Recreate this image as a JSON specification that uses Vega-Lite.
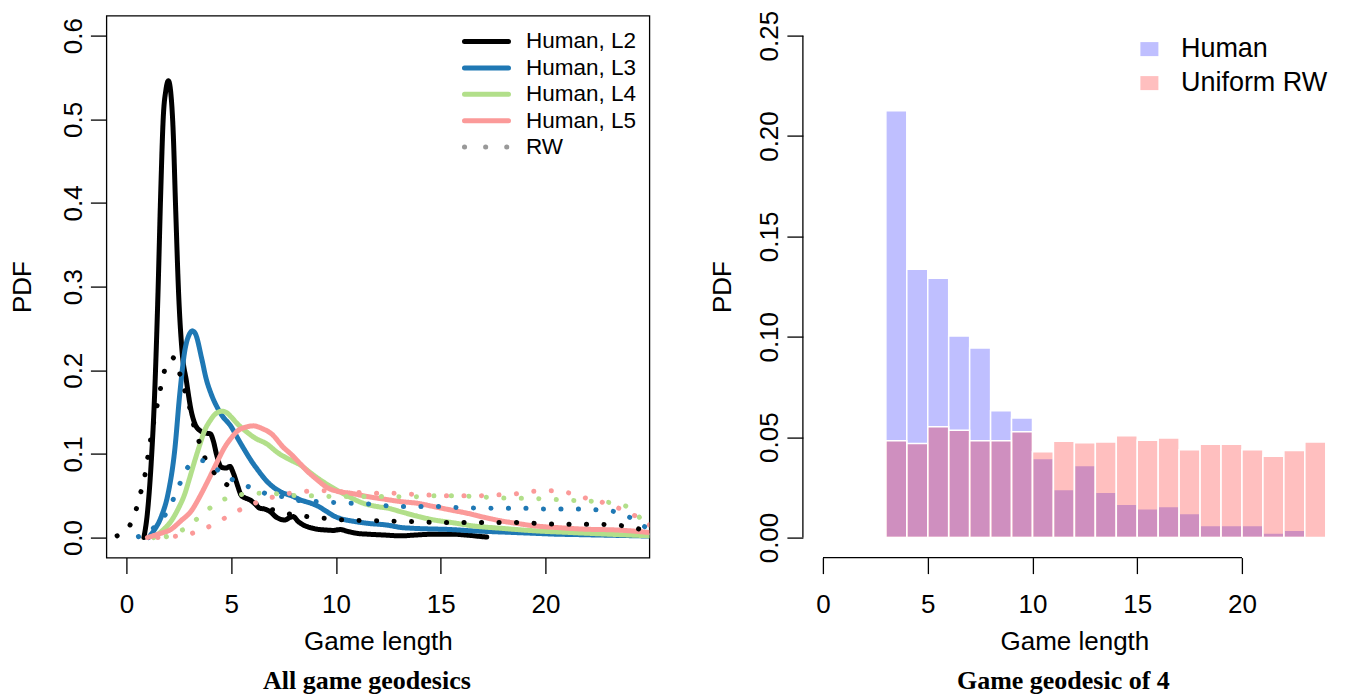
{
  "$schema": "https://vega.github.io/schema/vega-lite/v6.json",
  "background": "white",
  "padding": {"left": 8.4, "top": 9.6, "right": 0, "bottom": 0},
  "config": {
    "font": "Liberation Sans",
    "view": {"stroke": null},
    "axis": {"labelFont": "Liberation Sans", "titleFont": "Liberation Sans", "labelFontSize": 26, "titleFontSize": 26, "titleFontWeight": "normal", "labelColor": "black", "titleColor": "black", "tickColor": "black", "tickWidth": 1.3, "tickSize": 16, "grid": false, "domain": false},
    "legend": {"labelFont": "Liberation Sans", "labelColor": "black", "padding": 0, "titlePadding": 0}
  },
  "datasets": {
    "dens": [
      {"k": "Human, L2", "x": 0.83, "y": 0.0}, {"k": "Human, L2", "x": 1.0, "y": 0.03}, {"k": "Human, L2", "x": 1.18, "y": 0.09}, {"k": "Human, L2", "x": 1.34, "y": 0.17}, {"k": "Human, L2", "x": 1.5, "y": 0.29}, {"k": "Human, L2", "x": 1.63, "y": 0.41}, {"k": "Human, L2", "x": 1.75, "y": 0.5}, {"k": "Human, L2", "x": 1.88, "y": 0.535}, {"k": "Human, L2", "x": 2.0, "y": 0.546}, {"k": "Human, L2", "x": 2.12, "y": 0.53}, {"k": "Human, L2", "x": 2.22, "y": 0.49}, {"k": "Human, L2", "x": 2.35, "y": 0.39}, {"k": "Human, L2", "x": 2.49, "y": 0.29}, {"k": "Human, L2", "x": 2.65, "y": 0.223}, {"k": "Human, L2", "x": 2.86, "y": 0.187}, {"k": "Human, L2", "x": 3.1, "y": 0.15}, {"k": "Human, L2", "x": 3.3, "y": 0.134}, {"k": "Human, L2", "x": 3.5, "y": 0.128}, {"k": "Human, L2", "x": 3.75, "y": 0.125}, {"k": "Human, L2", "x": 4.0, "y": 0.124}, {"k": "Human, L2", "x": 4.15, "y": 0.115}, {"k": "Human, L2", "x": 4.3, "y": 0.099}, {"k": "Human, L2", "x": 4.53, "y": 0.084}, {"k": "Human, L2", "x": 4.75, "y": 0.083}, {"k": "Human, L2", "x": 4.93, "y": 0.085}, {"k": "Human, L2", "x": 5.1, "y": 0.077}, {"k": "Human, L2", "x": 5.25, "y": 0.066}, {"k": "Human, L2", "x": 5.49, "y": 0.05}, {"k": "Human, L2", "x": 5.7, "y": 0.047}, {"k": "Human, L2", "x": 5.89, "y": 0.045}, {"k": "Human, L2", "x": 6.1, "y": 0.041}, {"k": "Human, L2", "x": 6.37, "y": 0.035}, {"k": "Human, L2", "x": 6.6, "y": 0.034}, {"k": "Human, L2", "x": 6.85, "y": 0.031}, {"k": "Human, L2", "x": 7.17, "y": 0.024}, {"k": "Human, L2", "x": 7.56, "y": 0.021}, {"k": "Human, L2", "x": 7.8, "y": 0.024}, {"k": "Human, L2", "x": 7.96, "y": 0.025}, {"k": "Human, L2", "x": 8.2, "y": 0.019}, {"k": "Human, L2", "x": 8.44, "y": 0.015}, {"k": "Human, L2", "x": 8.75, "y": 0.012}, {"k": "Human, L2", "x": 9.08, "y": 0.01}, {"k": "Human, L2", "x": 9.5, "y": 0.009}, {"k": "Human, L2", "x": 9.88, "y": 0.0085}, {"k": "Human, L2", "x": 10.2, "y": 0.0095}, {"k": "Human, L2", "x": 10.6, "y": 0.007}, {"k": "Human, L2", "x": 11.0, "y": 0.005}, {"k": "Human, L2", "x": 11.5, "y": 0.004}, {"k": "Human, L2", "x": 12.3, "y": 0.003}, {"k": "Human, L2", "x": 13.1, "y": 0.002}, {"k": "Human, L2", "x": 13.8, "y": 0.003}, {"k": "Human, L2", "x": 14.7, "y": 0.004}, {"k": "Human, L2", "x": 15.5, "y": 0.004}, {"k": "Human, L2", "x": 16.2, "y": 0.003}, {"k": "Human, L2", "x": 16.8, "y": 0.0015}, {"k": "Human, L2", "x": 17.2, "y": 0.0005},
      {"k": "Human, L3", "x": 1.05, "y": 0.0}, {"k": "Human, L3", "x": 1.3, "y": 0.008}, {"k": "Human, L3", "x": 1.66, "y": 0.025}, {"k": "Human, L3", "x": 1.98, "y": 0.052}, {"k": "Human, L3", "x": 2.3, "y": 0.104}, {"k": "Human, L3", "x": 2.54, "y": 0.171}, {"k": "Human, L3", "x": 2.78, "y": 0.223}, {"k": "Human, L3", "x": 3.0, "y": 0.243}, {"k": "Human, L3", "x": 3.15, "y": 0.247}, {"k": "Human, L3", "x": 3.3, "y": 0.243}, {"k": "Human, L3", "x": 3.58, "y": 0.215}, {"k": "Human, L3", "x": 3.8, "y": 0.19}, {"k": "Human, L3", "x": 4.05, "y": 0.171}, {"k": "Human, L3", "x": 4.3, "y": 0.157}, {"k": "Human, L3", "x": 4.53, "y": 0.147}, {"k": "Human, L3", "x": 5.01, "y": 0.132}, {"k": "Human, L3", "x": 5.3, "y": 0.119}, {"k": "Human, L3", "x": 5.65, "y": 0.104}, {"k": "Human, L3", "x": 6.0, "y": 0.09}, {"k": "Human, L3", "x": 6.29, "y": 0.08}, {"k": "Human, L3", "x": 6.6, "y": 0.07}, {"k": "Human, L3", "x": 6.92, "y": 0.062}, {"k": "Human, L3", "x": 7.4, "y": 0.054}, {"k": "Human, L3", "x": 7.88, "y": 0.05}, {"k": "Human, L3", "x": 8.3, "y": 0.045}, {"k": "Human, L3", "x": 8.8, "y": 0.041}, {"k": "Human, L3", "x": 9.1, "y": 0.038}, {"k": "Human, L3", "x": 9.5, "y": 0.032}, {"k": "Human, L3", "x": 9.88, "y": 0.026}, {"k": "Human, L3", "x": 10.3, "y": 0.022}, {"k": "Human, L3", "x": 10.7, "y": 0.02}, {"k": "Human, L3", "x": 11.5, "y": 0.017}, {"k": "Human, L3", "x": 12.4, "y": 0.015}, {"k": "Human, L3", "x": 13.1, "y": 0.012}, {"k": "Human, L3", "x": 13.7, "y": 0.011}, {"k": "Human, L3", "x": 15.5, "y": 0.0095}, {"k": "Human, L3", "x": 16.5, "y": 0.008}, {"k": "Human, L3", "x": 17.5, "y": 0.007}, {"k": "Human, L3", "x": 18.5, "y": 0.006}, {"k": "Human, L3", "x": 19.5, "y": 0.005}, {"k": "Human, L3", "x": 20.5, "y": 0.004}, {"k": "Human, L3", "x": 21.5, "y": 0.0035}, {"k": "Human, L3", "x": 22.5, "y": 0.003}, {"k": "Human, L3", "x": 23.5, "y": 0.0025}, {"k": "Human, L3", "x": 24.5, "y": 0.002}, {"k": "Human, L3", "x": 25.3, "y": 0.0015},
      {"k": "Human, L4", "x": 1.3, "y": 0.0}, {"k": "Human, L4", "x": 1.7, "y": 0.008}, {"k": "Human, L4", "x": 2.14, "y": 0.02}, {"k": "Human, L4", "x": 2.5, "y": 0.036}, {"k": "Human, L4", "x": 2.78, "y": 0.052}, {"k": "Human, L4", "x": 3.0, "y": 0.07}, {"k": "Human, L4", "x": 3.26, "y": 0.092}, {"k": "Human, L4", "x": 3.5, "y": 0.111}, {"k": "Human, L4", "x": 3.73, "y": 0.128}, {"k": "Human, L4", "x": 4.0, "y": 0.14}, {"k": "Human, L4", "x": 4.21, "y": 0.147}, {"k": "Human, L4", "x": 4.56, "y": 0.151}, {"k": "Human, L4", "x": 4.8, "y": 0.149}, {"k": "Human, L4", "x": 5.0, "y": 0.144}, {"k": "Human, L4", "x": 5.33, "y": 0.135}, {"k": "Human, L4", "x": 5.7, "y": 0.127}, {"k": "Human, L4", "x": 6.13, "y": 0.119}, {"k": "Human, L4", "x": 6.69, "y": 0.112}, {"k": "Human, L4", "x": 7.24, "y": 0.101}, {"k": "Human, L4", "x": 7.8, "y": 0.093}, {"k": "Human, L4", "x": 8.28, "y": 0.087}, {"k": "Human, L4", "x": 8.8, "y": 0.077}, {"k": "Human, L4", "x": 9.3, "y": 0.068}, {"k": "Human, L4", "x": 9.88, "y": 0.059}, {"k": "Human, L4", "x": 10.3, "y": 0.053}, {"k": "Human, L4", "x": 10.68, "y": 0.048}, {"k": "Human, L4", "x": 11.3, "y": 0.041}, {"k": "Human, L4", "x": 11.96, "y": 0.037}, {"k": "Human, L4", "x": 12.5, "y": 0.035}, {"k": "Human, L4", "x": 13.07, "y": 0.031}, {"k": "Human, L4", "x": 13.8, "y": 0.026}, {"k": "Human, L4", "x": 14.67, "y": 0.021}, {"k": "Human, L4", "x": 15.5, "y": 0.018}, {"k": "Human, L4", "x": 16.5, "y": 0.014}, {"k": "Human, L4", "x": 17.9, "y": 0.011}, {"k": "Human, L4", "x": 19.5, "y": 0.008}, {"k": "Human, L4", "x": 21.1, "y": 0.0061}, {"k": "Human, L4", "x": 23.0, "y": 0.004}, {"k": "Human, L4", "x": 25.3, "y": 0.0018},
      {"k": "Human, L5", "x": 1.0, "y": 0.0}, {"k": "Human, L5", "x": 1.5, "y": 0.004}, {"k": "Human, L5", "x": 2.14, "y": 0.01}, {"k": "Human, L5", "x": 2.6, "y": 0.02}, {"k": "Human, L5", "x": 3.1, "y": 0.032}, {"k": "Human, L5", "x": 3.5, "y": 0.049}, {"k": "Human, L5", "x": 3.89, "y": 0.068}, {"k": "Human, L5", "x": 4.3, "y": 0.089}, {"k": "Human, L5", "x": 4.69, "y": 0.108}, {"k": "Human, L5", "x": 5.0, "y": 0.119}, {"k": "Human, L5", "x": 5.33, "y": 0.128}, {"k": "Human, L5", "x": 5.7, "y": 0.132}, {"k": "Human, L5", "x": 6.05, "y": 0.1335}, {"k": "Human, L5", "x": 6.5, "y": 0.13}, {"k": "Human, L5", "x": 6.92, "y": 0.124}, {"k": "Human, L5", "x": 7.48, "y": 0.108}, {"k": "Human, L5", "x": 7.88, "y": 0.099}, {"k": "Human, L5", "x": 8.3, "y": 0.088}, {"k": "Human, L5", "x": 8.6, "y": 0.08}, {"k": "Human, L5", "x": 9.1, "y": 0.069}, {"k": "Human, L5", "x": 9.56, "y": 0.06}, {"k": "Human, L5", "x": 10.1, "y": 0.055}, {"k": "Human, L5", "x": 10.68, "y": 0.053}, {"k": "Human, L5", "x": 11.5, "y": 0.049}, {"k": "Human, L5", "x": 12.27, "y": 0.046}, {"k": "Human, L5", "x": 13.07, "y": 0.043}, {"k": "Human, L5", "x": 13.86, "y": 0.041}, {"k": "Human, L5", "x": 14.66, "y": 0.037}, {"k": "Human, L5", "x": 15.46, "y": 0.033}, {"k": "Human, L5", "x": 16.26, "y": 0.029}, {"k": "Human, L5", "x": 17.1, "y": 0.024}, {"k": "Human, L5", "x": 17.85, "y": 0.02}, {"k": "Human, L5", "x": 18.6, "y": 0.017}, {"k": "Human, L5", "x": 19.45, "y": 0.014}, {"k": "Human, L5", "x": 20.5, "y": 0.012}, {"k": "Human, L5", "x": 21.85, "y": 0.01}, {"k": "Human, L5", "x": 23.4, "y": 0.009}, {"k": "Human, L5", "x": 24.3, "y": 0.0075}, {"k": "Human, L5", "x": 25.3, "y": 0.005},
      {"k": "RW, L2", "x": -0.45, "y": 0.002}, {"k": "RW, L2", "x": 0.0, "y": 0.009}, {"k": "RW, L2", "x": 0.19, "y": 0.016}, {"k": "RW, L2", "x": 0.49, "y": 0.036}, {"k": "RW, L2", "x": 0.7, "y": 0.056}, {"k": "RW, L2", "x": 0.89, "y": 0.076}, {"k": "RW, L2", "x": 1.02, "y": 0.097}, {"k": "RW, L2", "x": 1.15, "y": 0.117}, {"k": "RW, L2", "x": 1.3, "y": 0.138}, {"k": "RW, L2", "x": 1.47, "y": 0.159}, {"k": "RW, L2", "x": 1.63, "y": 0.179}, {"k": "RW, L2", "x": 1.82, "y": 0.2}, {"k": "RW, L2", "x": 2.0, "y": 0.211}, {"k": "RW, L2", "x": 2.22, "y": 0.215}, {"k": "RW, L2", "x": 2.4, "y": 0.206}, {"k": "RW, L2", "x": 2.54, "y": 0.196}, {"k": "RW, L2", "x": 2.78, "y": 0.176}, {"k": "RW, L2", "x": 3.02, "y": 0.155}, {"k": "RW, L2", "x": 3.18, "y": 0.137}, {"k": "RW, L2", "x": 3.46, "y": 0.115}, {"k": "RW, L2", "x": 3.73, "y": 0.096}, {"k": "RW, L2", "x": 4.2, "y": 0.077}, {"k": "RW, L2", "x": 4.8, "y": 0.063}, {"k": "RW, L2", "x": 5.5, "y": 0.051}, {"k": "RW, L2", "x": 6.2, "y": 0.04}, {"k": "RW, L2", "x": 7.0, "y": 0.033}, {"k": "RW, L2", "x": 7.8, "y": 0.028}, {"k": "RW, L2", "x": 8.63, "y": 0.025}, {"k": "RW, L2", "x": 9.48, "y": 0.023}, {"k": "RW, L2", "x": 10.4, "y": 0.021}, {"k": "RW, L2", "x": 12.0, "y": 0.02}, {"k": "RW, L2", "x": 13.7, "y": 0.019}, {"k": "RW, L2", "x": 15.0, "y": 0.018}, {"k": "RW, L2", "x": 17.0, "y": 0.018}, {"k": "RW, L2", "x": 18.7, "y": 0.018}, {"k": "RW, L2", "x": 20.4, "y": 0.016}, {"k": "RW, L2", "x": 22.1, "y": 0.016}, {"k": "RW, L2", "x": 22.9, "y": 0.0155}, {"k": "RW, L2", "x": 23.7, "y": 0.014}, {"k": "RW, L2", "x": 24.2, "y": 0.012}, {"k": "RW, L2", "x": 24.6, "y": 0.009}, {"k": "RW, L2", "x": 25.0, "y": 0.005}, {"k": "RW, L2", "x": 25.4, "y": 0.002},
      {"k": "RW, L3", "x": 0.57, "y": 0.001}, {"k": "RW, L3", "x": 1.0, "y": 0.006}, {"k": "RW, L3", "x": 1.4, "y": 0.014}, {"k": "RW, L3", "x": 1.82, "y": 0.026}, {"k": "RW, L3", "x": 2.22, "y": 0.045}, {"k": "RW, L3", "x": 2.54, "y": 0.064}, {"k": "RW, L3", "x": 2.9, "y": 0.083}, {"k": "RW, L3", "x": 3.2, "y": 0.09}, {"k": "RW, L3", "x": 3.6, "y": 0.092}, {"k": "RW, L3", "x": 4.0, "y": 0.087}, {"k": "RW, L3", "x": 4.5, "y": 0.078}, {"k": "RW, L3", "x": 5.0, "y": 0.07}, {"k": "RW, L3", "x": 5.8, "y": 0.061}, {"k": "RW, L3", "x": 6.6, "y": 0.053}, {"k": "RW, L3", "x": 7.4, "y": 0.049}, {"k": "RW, L3", "x": 8.28, "y": 0.044}, {"k": "RW, L3", "x": 9.05, "y": 0.043}, {"k": "RW, L3", "x": 9.88, "y": 0.042}, {"k": "RW, L3", "x": 10.75, "y": 0.041}, {"k": "RW, L3", "x": 11.6, "y": 0.04}, {"k": "RW, L3", "x": 12.4, "y": 0.038}, {"k": "RW, L3", "x": 13.2, "y": 0.037}, {"k": "RW, L3", "x": 14.9, "y": 0.037}, {"k": "RW, L3", "x": 15.75, "y": 0.036}, {"k": "RW, L3", "x": 17.5, "y": 0.035}, {"k": "RW, L3", "x": 19.2, "y": 0.035}, {"k": "RW, L3", "x": 20.0, "y": 0.034}, {"k": "RW, L3", "x": 21.7, "y": 0.034}, {"k": "RW, L3", "x": 22.5, "y": 0.033}, {"k": "RW, L3", "x": 23.3, "y": 0.031}, {"k": "RW, L3", "x": 23.8, "y": 0.027}, {"k": "RW, L3", "x": 24.1, "y": 0.023}, {"k": "RW, L3", "x": 24.5, "y": 0.017}, {"k": "RW, L3", "x": 24.8, "y": 0.012}, {"k": "RW, L3", "x": 25.3, "y": 0.005},
      {"k": "RW, L4", "x": 1.9, "y": 0.001}, {"k": "RW, L4", "x": 2.4, "y": 0.006}, {"k": "RW, L4", "x": 2.81, "y": 0.011}, {"k": "RW, L4", "x": 3.49, "y": 0.025}, {"k": "RW, L4", "x": 4.13, "y": 0.038}, {"k": "RW, L4", "x": 4.88, "y": 0.048}, {"k": "RW, L4", "x": 5.73, "y": 0.052}, {"k": "RW, L4", "x": 6.57, "y": 0.053}, {"k": "RW, L4", "x": 7.37, "y": 0.052}, {"k": "RW, L4", "x": 8.23, "y": 0.05}, {"k": "RW, L4", "x": 9.05, "y": 0.05}, {"k": "RW, L4", "x": 9.88, "y": 0.049}, {"k": "RW, L4", "x": 11.0, "y": 0.049}, {"k": "RW, L4", "x": 12.4, "y": 0.049}, {"k": "RW, L4", "x": 13.23, "y": 0.0486}, {"k": "RW, L4", "x": 14.07, "y": 0.049}, {"k": "RW, L4", "x": 14.9, "y": 0.05}, {"k": "RW, L4", "x": 15.8, "y": 0.05}, {"k": "RW, L4", "x": 16.6, "y": 0.049}, {"k": "RW, L4", "x": 17.4, "y": 0.048}, {"k": "RW, L4", "x": 18.3, "y": 0.047}, {"k": "RW, L4", "x": 19.1, "y": 0.047}, {"k": "RW, L4", "x": 20.0, "y": 0.046}, {"k": "RW, L4", "x": 20.8, "y": 0.045}, {"k": "RW, L4", "x": 21.6, "y": 0.044}, {"k": "RW, L4", "x": 22.5, "y": 0.043}, {"k": "RW, L4", "x": 23.3, "y": 0.041}, {"k": "RW, L4", "x": 23.8, "y": 0.038}, {"k": "RW, L4", "x": 24.1, "y": 0.033}, {"k": "RW, L4", "x": 24.7, "y": 0.019}, {"k": "RW, L4", "x": 25.2, "y": 0.008},
      {"k": "RW, L5", "x": 1.5, "y": 0.0}, {"k": "RW, L5", "x": 2.14, "y": 0.001}, {"k": "RW, L5", "x": 2.97, "y": 0.004}, {"k": "RW, L5", "x": 3.77, "y": 0.011}, {"k": "RW, L5", "x": 4.53, "y": 0.021}, {"k": "RW, L5", "x": 5.25, "y": 0.031}, {"k": "RW, L5", "x": 6.02, "y": 0.04}, {"k": "RW, L5", "x": 6.8, "y": 0.047}, {"k": "RW, L5", "x": 7.6, "y": 0.052}, {"k": "RW, L5", "x": 8.45, "y": 0.055}, {"k": "RW, L5", "x": 9.28, "y": 0.056}, {"k": "RW, L5", "x": 10.1, "y": 0.055}, {"k": "RW, L5", "x": 10.9, "y": 0.054}, {"k": "RW, L5", "x": 11.8, "y": 0.053}, {"k": "RW, L5", "x": 12.6, "y": 0.053}, {"k": "RW, L5", "x": 13.5, "y": 0.052}, {"k": "RW, L5", "x": 14.3, "y": 0.051}, {"k": "RW, L5", "x": 15.15, "y": 0.05}, {"k": "RW, L5", "x": 16.0, "y": 0.05}, {"k": "RW, L5", "x": 16.8, "y": 0.05}, {"k": "RW, L5", "x": 17.7, "y": 0.051}, {"k": "RW, L5", "x": 18.5, "y": 0.052}, {"k": "RW, L5", "x": 19.3, "y": 0.055}, {"k": "RW, L5", "x": 20.2, "y": 0.056}, {"k": "RW, L5", "x": 21.0, "y": 0.054}, {"k": "RW, L5", "x": 21.8, "y": 0.048}, {"k": "RW, L5", "x": 22.6, "y": 0.043}, {"k": "RW, L5", "x": 23.4, "y": 0.036}, {"k": "RW, L5", "x": 24.2, "y": 0.027}, {"k": "RW, L5", "x": 24.9, "y": 0.016}, {"k": "RW, L5", "x": 25.4, "y": 0.008}
    ],
    "hist": [
      {"group": "Human", "start": 3, "end": 4, "density": 0.2126},
      {"group": "Human", "start": 4, "end": 5, "density": 0.1337},
      {"group": "Human", "start": 5, "end": 6, "density": 0.1291},
      {"group": "Human", "start": 6, "end": 7, "density": 0.1004},
      {"group": "Human", "start": 7, "end": 8, "density": 0.0944},
      {"group": "Human", "start": 8, "end": 9, "density": 0.0631},
      {"group": "Human", "start": 9, "end": 10, "density": 0.0595},
      {"group": "Human", "start": 10, "end": 11, "density": 0.0394},
      {"group": "Human", "start": 11, "end": 12, "density": 0.0239},
      {"group": "Human", "start": 12, "end": 13, "density": 0.0359},
      {"group": "Human", "start": 13, "end": 14, "density": 0.0226},
      {"group": "Human", "start": 14, "end": 15, "density": 0.0166},
      {"group": "Human", "start": 15, "end": 16, "density": 0.0143},
      {"group": "Human", "start": 16, "end": 17, "density": 0.0154},
      {"group": "Human", "start": 17, "end": 18, "density": 0.012},
      {"group": "Human", "start": 18, "end": 19, "density": 0.006},
      {"group": "Human", "start": 19, "end": 20, "density": 0.006},
      {"group": "Human", "start": 20, "end": 21, "density": 0.006},
      {"group": "Human", "start": 21, "end": 22, "density": 0.0023},
      {"group": "Human", "start": 22, "end": 23, "density": 0.0036},
      {"group": "Uniform RW", "start": 3, "end": 4, "density": 0.0482},
      {"group": "Uniform RW", "start": 4, "end": 5, "density": 0.0468},
      {"group": "Uniform RW", "start": 5, "end": 6, "density": 0.0552},
      {"group": "Uniform RW", "start": 6, "end": 7, "density": 0.0535},
      {"group": "Uniform RW", "start": 7, "end": 8, "density": 0.0482},
      {"group": "Uniform RW", "start": 8, "end": 9, "density": 0.0482},
      {"group": "Uniform RW", "start": 9, "end": 10, "density": 0.0527},
      {"group": "Uniform RW", "start": 10, "end": 11, "density": 0.0427},
      {"group": "Uniform RW", "start": 11, "end": 12, "density": 0.0479},
      {"group": "Uniform RW", "start": 12, "end": 13, "density": 0.0472},
      {"group": "Uniform RW", "start": 13, "end": 14, "density": 0.0476},
      {"group": "Uniform RW", "start": 14, "end": 15, "density": 0.0507},
      {"group": "Uniform RW", "start": 15, "end": 16, "density": 0.0484},
      {"group": "Uniform RW", "start": 16, "end": 17, "density": 0.0496},
      {"group": "Uniform RW", "start": 17, "end": 18, "density": 0.0437},
      {"group": "Uniform RW", "start": 18, "end": 19, "density": 0.0465},
      {"group": "Uniform RW", "start": 19, "end": 20, "density": 0.0465},
      {"group": "Uniform RW", "start": 20, "end": 21, "density": 0.0437},
      {"group": "Uniform RW", "start": 21, "end": 22, "density": 0.0405},
      {"group": "Uniform RW", "start": 22, "end": 23, "density": 0.0434},
      {"group": "Uniform RW", "start": 23, "end": 24, "density": 0.0476}
    ]
  },
  "spacing": 153.5,
  "bounds": "flush",
  "resolve": {"scale": {"x": "independent", "y": "independent", "color": "independent", "strokeDash": "independent"}, "legend": {"color": "independent", "strokeDash": "independent"}, "axis": {"x": "independent", "y": "independent"}},
  "hconcat": [
    {
      "width": 543,
      "height": 542,
      "view": {"stroke": "black", "strokeWidth": 1.3},
      "title": {"text": "All game geodesics", "orient": "bottom", "font": "Liberation Serif", "fontWeight": "bold", "fontSize": 26, "color": "black", "offset": 13, "dx": -11, "anchor": "middle"},
      "data": {"name": "dens"},
      "mark": {"type": "line", "strokeWidth": 5, "strokeCap": "round", "strokeJoin": "round", "clip": true, "interpolate": "monotone"},
      "encoding": {
        "x": {"field": "x", "type": "quantitative", "scale": {"domain": [-0.96, 24.96], "nice": false, "zero": false}, "axis": {"values": [0, 5, 10, 15, 20], "title": "Game length", "labelPadding": 18, "titlePadding": 11, "labelFlush": false}},
        "y": {"field": "y", "type": "quantitative", "scale": {"domain": [-0.024, 0.624], "nice": false, "zero": false}, "axis": {"values": [0, 0.1, 0.2, 0.3, 0.4, 0.5, 0.6], "format": ".1f", "title": "PDF", "labelAngle": -90, "labelAlign": "center", "labelBaseline": "alphabetic", "labelPadding": 9, "titlePadding": 25, "labelFlush": false}},
        "color": {"field": "k", "type": "nominal",
          "scale": {"domain": ["Human, L2", "Human, L3", "Human, L4", "Human, L5", "RW", "RW, L2", "RW, L3", "RW, L4", "RW, L5"], "range": ["#000000", "#1F78B4", "#B2DF8A", "#FB9A99", "#999999", "#000000", "#1F78B4", "#B2DF8A", "#FB9A99"]},
          "legend": {"values": ["Human, L2", "Human, L3", "Human, L4", "Human, L5", "RW"], "title": null, "orient": "none", "legendX": 367.6, "legendY": 13.4, "symbolType": "M-2.2,0H2.2", "symbolSize": 400, "symbolStrokeWidth": 5, "labelFontSize": 22.5, "labelOffset": 27, "rowPadding": 2.4, "encode": {"symbols": {"update": {"strokeCap": {"value": "round"}}}}}},
        "strokeDash": {"field": "k", "type": "nominal",
          "scale": {"domain": ["Human, L2", "Human, L3", "Human, L4", "Human, L5", "RW", "RW, L2", "RW, L3", "RW, L4", "RW, L5"], "range": [[1, 0], [1, 0], [1, 0], [1, 0], [0.1, 21], [0.1, 17.4], [0.1, 17.4], [0.1, 17.4], [0.1, 17.4]]},
          "legend": {"values": ["Human, L2", "Human, L3", "Human, L4", "Human, L5", "RW"], "title": null, "orient": "none", "legendX": 367.6, "legendY": 13.4, "symbolType": "M-2.2,0H2.2", "symbolSize": 400, "symbolStrokeWidth": 5, "labelFontSize": 22.5, "labelOffset": 27, "rowPadding": 2.4, "encode": {"symbols": {"update": {"strokeCap": {"value": "round"}}}}}}
      }
    },
    {
      "width": 543,
      "height": 542,
      "title": {"text": "Game geodesic of 4", "orient": "bottom", "font": "Liberation Serif", "fontWeight": "bold", "fontSize": 26, "color": "black", "offset": 13, "dx": -11, "anchor": "middle"},
      "layer": [
        {
          "data": {"name": "hist"},
          "mark": {"type": "bar", "fillOpacity": 0.25, "stroke": "white", "strokeWidth": 1.5, "strokeOpacity": 1},
          "encoding": {
            "x": {"field": "start", "type": "quantitative", "scale": {"domain": [-0.96, 24.96], "nice": false, "zero": false}, "axis": {"values": [0, 5, 10, 15, 20], "title": "Game length", "labelPadding": 18, "titlePadding": 11, "labelFlush": false}},
            "x2": {"field": "end"},
            "y": {"field": "density", "type": "quantitative", "stack": null, "scale": {"domain": [-0.01, 0.26], "nice": false, "zero": false}, "axis": {"values": [0, 0.05, 0.1, 0.15, 0.2, 0.25], "format": ".2f", "title": "PDF", "labelAngle": -90, "labelAlign": "center", "labelBaseline": "alphabetic", "labelPadding": 9, "titlePadding": 21, "labelFlush": false}},
            "y2": {"datum": 0},
            "color": {"field": "group", "type": "nominal", "scale": {"domain": ["Human", "Uniform RW"], "range": ["#0000FF", "#FF0000"]},
              "legend": {"title": null, "orient": "none", "legendX": 333, "legendY": 20, "symbolType": "M-1,-0.78H1V0.78H-1Z", "symbolSize": 324, "symbolOpacity": 0.25, "symbolStrokeWidth": 0, "labelFontSize": 27, "labelOffset": 18, "rowPadding": 6}}
          }
        },
        {
          "data": {"values": [{}]},
          "mark": {"type": "rule", "color": "black", "strokeWidth": 1.3},
          "encoding": {"x": {"datum": 0}, "x2": {"datum": 20}, "y": {"datum": -0.01}}
        },
        {
          "data": {"values": [{}]},
          "mark": {"type": "rule", "color": "black", "strokeWidth": 1.3},
          "encoding": {"x": {"datum": -0.96}, "y": {"datum": 0}, "y2": {"datum": 0.25}}
        }
      ]
    }
  ]
}
